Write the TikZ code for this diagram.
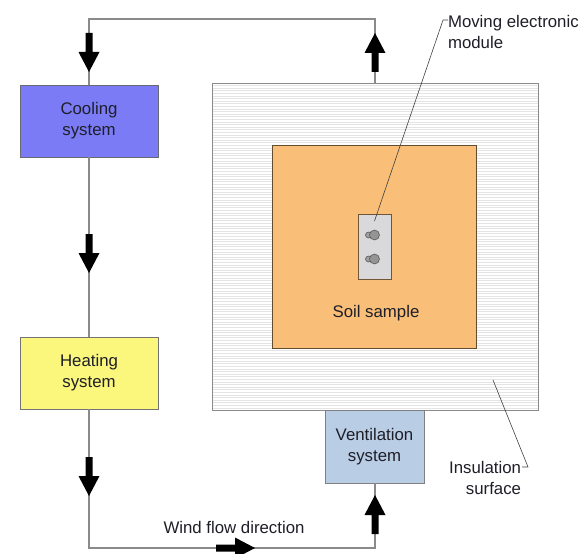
\documentclass[tikz,border=0pt]{standalone}
\usepackage{fontspec}
\setmainfont{Liberation Sans}
\definecolor{coolfill}{HTML}{7B7BF6}
\definecolor{heatfill}{HTML}{FAF77C}
\definecolor{ventfill}{HTML}{B9CDE5}
\definecolor{soilfill}{HTML}{F9BE78}
\definecolor{modfill}{HTML}{D9D9DB}
\definecolor{flowline}{HTML}{8A8A8A}
\definecolor{boxline}{HTML}{6A6A72}
\definecolor{hatch}{HTML}{E4E4E4}
\definecolor{inktext}{HTML}{1E1E28}
\begin{document}
\begin{tikzpicture}[x={(1pt,0pt)}, y={(0pt,-1pt)},
  every node/.style={inner sep=0pt, outer sep=0pt, text=inktext,
    font=\fontsize{16.8}{21}\selectfont},
  unitbox/.style={draw=boxline, line width=0.9pt, align=center},
  flow/.style={draw=flowline, line width=1.2pt},
  leader/.style={draw=black!75, line width=0.6pt},
  blockarrow/.pic={\fill[black] (-3.5,0) -- (3.5,0) -- (3.5,19) -- (10.5,19)
      -- (0,39) -- (-10.5,19) -- (-3.5,19) -- cycle;}
]
\useasboundingbox (0,0) rectangle (585,553);

% insulated chamber with horizontal hatching
\node[minimum width=326pt, minimum height=326pt, fill=white] (ins) at (375,247) {};
\begin{scope}
  \clip (212,84) rectangle (538,410);
  \foreach \yy in {85.5,88.1,...,410} \draw[hatch, line width=0.7pt] (212,\yy) -- (538,\yy);
\end{scope}
\draw[draw=flowline, line width=1pt] (212,84) rectangle (538,410);

% soil sample
\node[unitbox, draw=black!60!soilfill, fill=soilfill, minimum width=204pt, minimum height=203pt] (soil) at (374,246.5) {};
\node (soiltxt) at (376,313) {Soil sample};

% moving electronic module
\node[unitbox, draw=black!55!soilfill, fill=modfill, minimum width=33pt, minimum height=65pt] (mod) at (374.5,246.5) {};
\foreach \cy/\nm in {235/a,259/b} {
  \node[circle, draw=black!65, fill=black!38, line width=0.6pt, minimum size=6pt] (small\nm) at (368.5,\cy) {};
  \node[circle, draw=black!65, fill=black!42, line width=0.6pt, minimum size=10pt] (big\nm) at (374.5,\cy) {};
}

% module callout
\coordinate (modpt) at (374.5,221);
\coordinate (modbend) at (443,20);
\node[anchor=west, align=left] (modlabel) at (448,32) {Moving electronic\\module};
\draw[leader] (modpt) -- (modbend) -- (modbend -| modlabel.west);

% insulation callout
\coordinate (inspt) at (493,380);
\node[anchor=east, align=right] (inslabel) at (521,478) {Insulation\\surface};
\coordinate (insbend) at (528,467);
\draw[leader] (inspt) -- (insbend) -- (522,467);

% units
\node[unitbox, fill=coolfill, minimum width=138pt, minimum height=72pt] (cool) at (89,121) {Cooling\\system};
\node[unitbox, draw=black!55, fill=heatfill, minimum width=138pt, minimum height=72pt] (heat) at (89,373) {Heating\\system};
\node[unitbox, draw=black!50, fill=ventfill, minimum width=99pt, minimum height=73pt] (vent) at (374.5,446.5) {Ventilation\\system};

% air circuit
\coordinate (topleft) at (89,19);
\coordinate (topright) at (375,19);
\coordinate (botleft) at (89,548);
\coordinate (botright) at (375,548);
\draw[flow] (cool.north) -- (topleft) -- (topright) -- (ins.north -| topright);
\draw[flow] (cool.south) -- (heat.north);
\draw[flow] (heat.south) -- (botleft) -- (botright) -- (vent.south -| botright);

% flow direction arrows
\pic at (89,33) {blockarrow};
\pic at (89,234) {blockarrow};
\pic at (89,457) {blockarrow};
\pic[rotate=180] at (375,72) {blockarrow};
\pic[rotate=180] at (375,534) {blockarrow};
\pic[rotate=90] at (216,548) {blockarrow};
\node (windtxt) at (234,527) {Wind flow direction};
\end{tikzpicture}
\end{document}
